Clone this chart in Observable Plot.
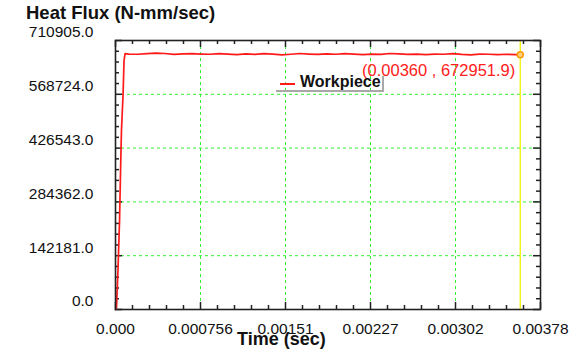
<!DOCTYPE html>
<html>
<head>
<meta charset="utf-8">
<script src="https://cdn.jsdelivr.net/npm/d3@7"></script>
<script src="https://cdn.jsdelivr.net/npm/@observablehq/plot@0.6"></script>
<style>
  html, body { margin: 0; padding: 0; background: #fff; }
  #wrap { position: relative; width: 580px; height: 354px; font-family: "Liberation Sans", Arial, sans-serif; }
  #title { position: absolute; left: 26px; top: 2px; font-size: 18.5px; font-weight: bold; color: #111; white-space: nowrap; }
  #xlabel { position: absolute; left: 237px; top: 329px; font-size: 18px; font-weight: bold; color: #111; white-space: nowrap; }
  #legend { position: absolute; left: 276px; top: 76px; width: 106px; height: 14px; border-right: 2px solid #a8a8a8; border-bottom: 2px solid #a8a8a8; }
  #legend .sw { position: absolute; left: 4px; top: 7px; width: 15px; height: 2px; background: #ff1a1a; }
  #legend .lb { position: absolute; left: 24px; top: -3px; font-size: 16px; font-weight: bold; color: #111; white-space: nowrap; }
</style>
</head>
<body>
<div id="wrap">
  <div id="chart"></div>
  <div id="title">Heat Flux (N-mm/sec)</div>
  <div id="xlabel">Time (sec)</div>
  <div id="legend"><div class="sw"></div><div class="lb">Workpiece</div></div>
</div>
<script>
const seriesName = "Workpiece";
const times = [0, 0.000009, 0.000022, 0.000036, 0.000045, 0.000053, 0.000067, 0.000076, 0.000085, 0.00012,
  0.0002, 0.00028, 0.00036, 0.00044, 0.00052, 0.0006, 0.00068, 0.00076, 0.00084, 0.00092,
  0.001, 0.00108, 0.00116, 0.00124, 0.00132, 0.0014, 0.00148, 0.00156, 0.00164, 0.00172,
  0.0018, 0.00188, 0.00196, 0.00204, 0.00212, 0.0022, 0.00228, 0.00236, 0.00244, 0.00252,
  0.0026, 0.00268, 0.00276, 0.00284, 0.00292, 0.003, 0.00308, 0.00316, 0.00324, 0.00332,
  0.0034, 0.00348, 0.00356, 0.0036];
const heatFlux = [0, 5000, 103000, 235000, 367000, 473000, 566000, 658000, 676000, 675000,
  674500, 676000, 677500, 676500, 674000, 675500, 676000, 675000, 674500, 676000,
  675000, 673500, 675500, 674000, 676000, 675000, 673000, 674500, 676500, 675000,
  674000, 675500, 674500, 676000, 675000, 673500, 675000, 674000, 676500, 675500,
  674000, 675000, 673500, 675000, 674500, 676000, 674000, 673000, 675000, 674500,
  673500, 674500, 673500, 672951.9];
const cursorTime = 0.00360;
const cursorValue = 672951.9;
const cursorLabel = "(0.00360 , 672951.9)";

const xTicks = [0, 0.000756, 0.001512, 0.002268, 0.003024, 0.00378];
const xTickLabels = ["0.000", "0.000756", "0.00151", "0.00227", "0.00302", "0.00378"];
const yTicks = [0, 142181, 284362, 426543, 568724, 710905];
const yTickLabels = ["0.0", "142181.0", "284362.0", "426543.0", "568724.0", "710905.0"];
const xGrid = xTicks.slice(1, -1);
const yGrid = yTicks.slice(1, -1);
const xMinor = d3.range(26).map(i => i * 0.0001512);
const yMinor = d3.range(26).map(i => i * 28436.2);

const data = times.map((t, i) => ({t, v: heatFlux[i]}));

const W = 580, H = 354, mL = 115, mR = 40, mT = 40, mB = 45;
const pW = W - mL - mR, pH = H - mT - mB;
const major = 7, minor = 4;
const tickColor = "#222";
const isMajorX = d => xTicks.some(t => Math.abs(t - d) < 1e-9);
const isMajorY = d => yTicks.some(t => Math.abs(t - d) < 1e-3);
const xMin = xMinor.filter(d => !isMajorX(d));
const yMin = yMinor.filter(d => !isMajorY(d));

const chart = Plot.plot({
  width: W, height: H,
  marginLeft: mL, marginRight: mR, marginTop: mT, marginBottom: mB,
  style: {fontFamily: "'Liberation Sans', Arial, sans-serif", fontSize: "15.5px", color: "#111", background: "#fff"},
  x: {domain: [0, 0.00378]},
  y: {domain: [0, 710905]},
  marks: [
    Plot.ruleX(xGrid, {stroke: "#33ee33", strokeDasharray: "3,3", strokeWidth: 1}),
    Plot.ruleY(yGrid, {stroke: "#33ee33", strokeDasharray: "3,3", strokeWidth: 1}),
    // inward ticks: bottom, top
    Plot.ruleX(xTicks, {insetTop: pH - major, stroke: tickColor, strokeWidth: 1.5}),
    Plot.ruleX(xMin, {insetTop: pH - minor, stroke: tickColor, strokeWidth: 1.5}),
    Plot.ruleX(xTicks, {insetBottom: pH - major, stroke: tickColor, strokeWidth: 1.5}),
    Plot.ruleX(xMin, {insetBottom: pH - minor, stroke: tickColor, strokeWidth: 1.5}),
    // inward ticks: left, right
    Plot.ruleY(yTicks, {insetRight: pW - major, stroke: tickColor, strokeWidth: 1.5}),
    Plot.ruleY(yMin, {insetRight: pW - minor, stroke: tickColor, strokeWidth: 1.5}),
    Plot.ruleY(yTicks, {insetLeft: pW - major, stroke: tickColor, strokeWidth: 1.5}),
    Plot.ruleY(yMin, {insetLeft: pW - minor, stroke: tickColor, strokeWidth: 1.5}),
    Plot.axisX(xTicks, {tickSize: 0, tickPadding: 13, label: null, fill: "#111",
      tickFormat: d => xTickLabels[xTicks.indexOf(d)]}),
    Plot.axisY(yTicks, {tickSize: 0, tickPadding: 22, dy: -8, label: null, fill: "#111",
      tickFormat: d => yTickLabels[yTicks.indexOf(d)]}),
    Plot.ruleX([cursorTime], {stroke: "#f2f200", strokeWidth: 1.3}),
    Plot.line(data, {x: "t", y: "v", stroke: "#ff1a1a", strokeWidth: 1.7}),
    Plot.dot([{t: cursorTime, v: cursorValue}], {x: "t", y: "v", r: 3, stroke: "#ff9900", fill: "#ffd080", strokeWidth: 1.5}),
    Plot.text([{t: cursorTime, v: cursorValue}], {x: "t", y: "v", text: () => cursorLabel, textAnchor: "end",
      dx: -5, dy: 16, fill: "#ff2020", fontSize: 16.5}),
    Plot.frame({stroke: "#222", strokeWidth: 1.6})
  ]
});
document.getElementById("chart").appendChild(chart);
</script>
</body>
</html>
